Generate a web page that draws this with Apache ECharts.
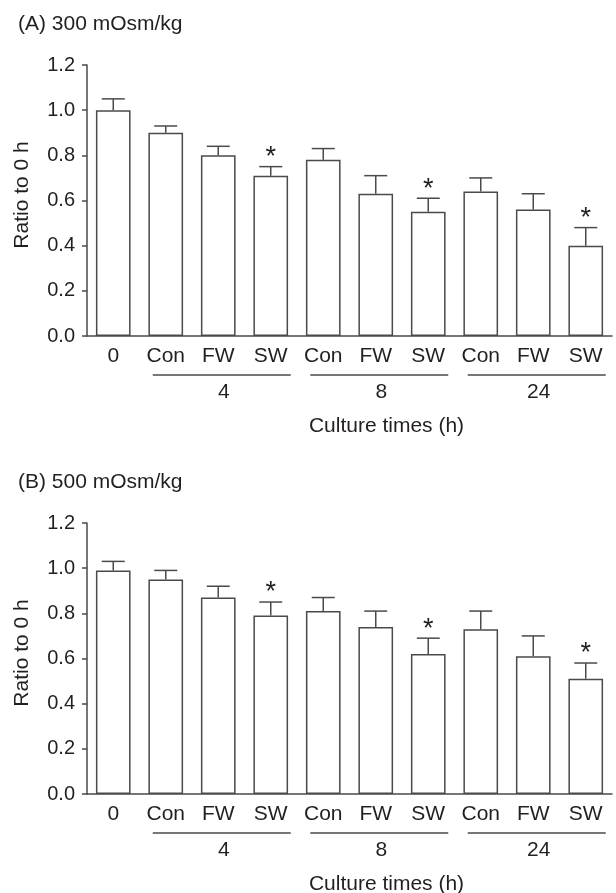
<!DOCTYPE html>
<html>
<head>
<meta charset="utf-8">
<script src="https://cdn.jsdelivr.net/npm/echarts@6/dist/echarts.min.js"></script>
<style>html,body{margin:0;padding:0;background:#fff}#c{width:616px;height:893px}</style>
</head>
<body>
<div id="c"></div>
<script>
// ---- data ----
const categories = ['0', 'Con', 'FW', 'SW', 'Con', 'FW', 'SW', 'Con', 'FW', 'SW'];
const meanA  = [1.00, 0.90, 0.80, 0.71, 0.78, 0.63, 0.55, 0.64, 0.56, 0.40];
const upperA = [1.05, 0.93, 0.84, 0.75, 0.83, 0.71, 0.61, 0.70, 0.63, 0.48];
const meanB  = [0.99, 0.95, 0.87, 0.79, 0.81, 0.74, 0.62, 0.73, 0.61, 0.51];
const upperB = [1.03, 0.99, 0.92, 0.85, 0.87, 0.81, 0.69, 0.81, 0.70, 0.58];
const sigA = [3, 6, 9];
const sigB = [3, 6, 9];
const groupLabels = ['4', '8', '24'];
const groupStart = [1, 4, 7];
const groupEnd = [3, 6, 9];
const panelTitles = ['(A) 300 mOsm/kg', '(B) 500 mOsm/kg'];
const yAxisName = 'Ratio to 0 h';
const xAxisName = 'Culture times (h)';

// ---- styling ----
const FONT = '"Liberation Sans", Arial, sans-serif';
const TXT = '#231f20';
const LINE = '#4a4a4a';

const chart = echarts.init(document.getElementById('c'), null, {renderer: 'canvas'});

function errItem(sig) {
  return function (params, api) {
    const i = api.value(0);
    const p0 = api.coord([i, api.value(1)]);
    const p1 = api.coord([i, api.value(2)]);
    const half = 11.5;
    const st = {stroke: LINE, lineWidth: 1.5};
    const ch = [
      {type: 'line', shape: {x1: p0[0], y1: p0[1], x2: p1[0], y2: p1[1]}, style: st},
      {type: 'line', shape: {x1: p0[0] - half, y1: p1[1], x2: p0[0] + half, y2: p1[1]}, style: st}
    ];
    if (sig.indexOf(i) >= 0) {
      ch.push({type: 'text', style: {text: '*', x: p0[0], y: p1[1] - 9, align: 'center', verticalAlign: 'middle',
        font: '27px ' + FONT, fill: TXT}});
    }
    return {type: 'group', children: ch};
  };
}

function groupItem(params, api) {
  const a = api.coord([api.value(0), 0]);
  const b = api.coord([api.value(2), 0]);
  const x1 = a[0] - 13, x2 = b[0] + 20, y0 = a[1];
  const label = groupLabels[params.dataIndex];
  return {type: 'group', children: [
    {type: 'line', shape: {x1: x1, y1: y0 + 39, x2: x2, y2: y0 + 39}, style: {stroke: LINE, lineWidth: 1.3}},
    {type: 'text', style: {text: label, x: (x1 + x2) / 2 + 2, y: y0 + 56, align: 'center', verticalAlign: 'middle',
      font: '21px ' + FONT, fill: TXT}}
  ]};
}

const grids = [
  {left: 87, right: 4, top: 65, height: 271, outerBoundsMode: 'none', containLabel: false},
  {left: 87, right: 4, top: 523, height: 271, outerBoundsMode: 'none', containLabel: false}
];

const xAxes = [0, 1].map(k => ({
  type: 'category', gridIndex: k, data: categories,
  axisLine: {lineStyle: {color: LINE, width: 1.5}},
  axisTick: {alignWithLabel: true, length: 6, lineStyle: {color: LINE, width: 1.5}},
  axisLabel: {color: TXT, fontSize: 21, fontFamily: FONT, margin: 10, interval: 0},
  name: xAxisName, nameLocation: 'middle', nameGap: 80,
  nameTextStyle: {color: TXT, fontSize: 21, fontFamily: FONT, padding: [0, 0, 0, 74]}
}));

const yAxes = [0, 1].map(k => ({
  type: 'value', gridIndex: k, min: 0, max: 1.2, interval: 0.2,
  axisLine: {show: true, lineStyle: {color: LINE, width: 1.5}},
  axisTick: {show: true, length: 5, lineStyle: {color: LINE, width: 1.5}},
  splitLine: {show: false},
  axisLabel: {color: TXT, fontSize: 20, fontFamily: FONT, margin: 12, formatter: v => v.toFixed(1)},
  name: yAxisName, nameLocation: 'middle', nameGap: 54,
  nameTextStyle: {color: TXT, fontSize: 21, fontFamily: FONT, padding: [0, 0, 0, 11]}
}));

const means = [meanA, meanB], uppers = [upperA, upperB], sigs = [sigA, sigB];
const series = [];
[0, 1].forEach(k => {
  series.push({
    type: 'bar', xAxisIndex: k, yAxisIndex: k, data: means[k], barWidth: '66%',
    itemStyle: {color: '#fff', borderColor: LINE, borderWidth: 1.5}, silent: true
  });
  series.push({
    type: 'custom', xAxisIndex: k, yAxisIndex: k, clip: false, silent: true,
    renderItem: errItem(sigs[k]), encode: {x: 0, y: [1, 2]},
    data: means[k].map((m, i) => [i, m, uppers[k][i]]), z: 3
  });
  series.push({
    type: 'custom', xAxisIndex: k, yAxisIndex: k, clip: false, silent: true,
    renderItem: groupItem, encode: {x: 0, y: 1},
    data: groupStart.map((s, i) => [s, 0, groupEnd[i]]), z: 3
  });
});

chart.setOption({
  animation: false,
  backgroundColor: '#fff',
  title: [
    {text: panelTitles[0], left: 13, top: 9, textStyle: {color: TXT, fontSize: 21, fontWeight: 'normal', fontFamily: FONT}},
    {text: panelTitles[1], left: 13, top: 467, textStyle: {color: TXT, fontSize: 21, fontWeight: 'normal', fontFamily: FONT}}
  ],
  grid: grids,
  xAxis: xAxes,
  yAxis: yAxes,
  series: series
});
</script>
</body>
</html>
